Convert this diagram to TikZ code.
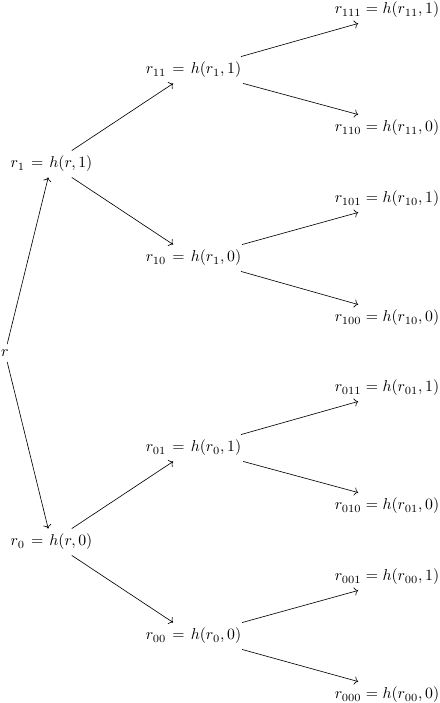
\documentclass[tikz,border=0pt]{standalone}
\usepackage{amsmath}
\usepackage{tikz}
\usetikzlibrary{arrows.meta}
\tikzset{
  lbl/.style  ={inner sep=.3333em},
  lblw/.style ={lbl,execute at begin node={\thickmuskip=7mu plus 5mu}},
  ed/.style   ={->,draw=black,line width=0.4pt},
}

\begin{document}
\begin{tikzpicture}[
  x=0.635pt, y=-0.635pt,
]
\useasboundingbox (0,0) rectangle (439,703);

\node[lbl]  (r)    at (5,353)     {$r$};

\node[lblw] (r1)   at (51.5,164)  {$r_1 = h(r,1)$};
\node[lblw] (r0)   at (51.5,542)  {$r_0 = h(r,0)$};

\node[lblw] (r11)  at (193.5,70)  {$r_{11} = h(r_1,1)$};
\node[lblw] (r10)  at (193.5,258) {$r_{10} = h(r_1,0)$};
\node[lblw] (r01)  at (193.5,448) {$r_{01} = h(r_0,1)$};
\node[lblw] (r00)  at (193.5,636) {$r_{00} = h(r_0,0)$};

\node[lbl]  (r111) at (387,10)    {$r_{111} = h(r_{11},1)$};
\node[lbl]  (r110) at (387,128)   {$r_{110} = h(r_{11},0)$};
\node[lbl]  (r101) at (387,199)   {$r_{101} = h(r_{10},1)$};
\node[lbl]  (r100) at (387,318)   {$r_{100} = h(r_{10},0)$};
\node[lbl]  (r011) at (387,388)   {$r_{011} = h(r_{01},1)$};
\node[lbl]  (r010) at (387,506)   {$r_{010} = h(r_{01},0)$};
\node[lbl]  (r001) at (387,577)   {$r_{001} = h(r_{00},1)$};
\node[lbl]  (r000) at (387,695)   {$r_{000} = h(r_{00},0)$};

\draw[ed] (r) -- (r1);
\draw[ed] (r) -- (r0);

\draw[ed] (r1) -- (r11);
\draw[ed] (r1) -- (r10);
\draw[ed] (r0) -- (r01);
\draw[ed] (r0) -- (r00);

%% last level: arrows meet the labels a bit left of centre
\draw[ed] (r11) -- (r111.205);
\draw[ed] (r11) -- (r110.155);
\draw[ed] (r10) -- (r101.205);
\draw[ed] (r10) -- (r100.155);
\draw[ed] (r01) -- (r011.205);
\draw[ed] (r01) -- (r010.155);
\draw[ed] (r00) -- (r001.205);
\draw[ed] (r00) -- (r000.155);

\end{tikzpicture}
\end{document}
